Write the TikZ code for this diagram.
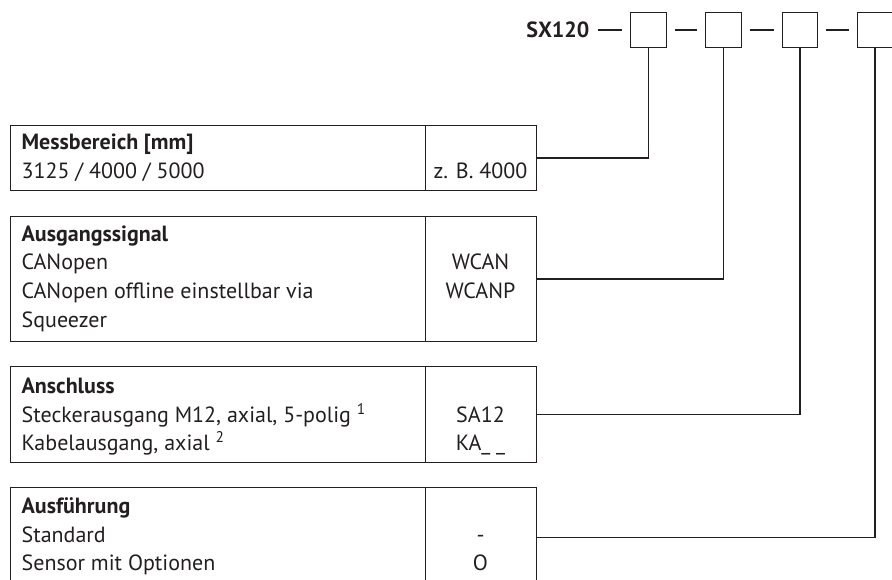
\documentclass[tikz,border=0pt]{standalone}
\usepackage{fontspec}
\setmainfont{PT Sans}
\definecolor{ink}{HTML}{231F20}

\begin{document}
\begin{tikzpicture}[x=1pt,y=-1pt,ink,line width=1.3pt,
	codebox/.style={draw,minimum size=35.5pt,inner sep=0pt},
	cell/.style={draw,anchor=north west,inner sep=0pt},
	joint/.style={shorten <=8pt,shorten >=8pt},
	txt/.style={anchor=base west,inner sep=0pt,font=\fontsize{22}{26}\selectfont},
	val/.style={anchor=base,inner sep=0pt,font=\fontsize{22}{26}\selectfont}]
				\useasboundingbox (0,0) rectangle (892,580);
				
				% order code
				\path (590,30) node[anchor=east,inner sep=0pt,font=\fontsize{22}{26}\selectfont\bfseries] (sx) {SX120};
				\path (648.5,30) node[codebox] (c1) {};
				\path (723.5,30) node[codebox] (c2) {};
				\path (800,30) node[codebox] (c3) {};
				\path (875,30) node[codebox] (c4) {};
				\draw[joint] (sx.east |- c1.west) -- (c1.west);
				\draw[joint] (c1.east) -- (c2.west);
				\draw[joint] (c2.east) -- (c3.west);
				\draw[joint] (c3.east) -- (c4.west);
				
				% table cells
				\path (10,125) node[cell,minimum width=415pt,minimum height=65pt] (k1) {};
				\path (425,125) node[cell,minimum width=111pt,minimum height=65pt] (v1) {};
				\path (10,216) node[cell,minimum width=415pt,minimum height=125pt] (k2) {};
				\path (425,216) node[cell,minimum width=111pt,minimum height=125pt] (v2) {};
				\path (10,366) node[cell,minimum width=415pt,minimum height=96pt] (k3) {};
				\path (425,366) node[cell,minimum width=111pt,minimum height=96pt] (v3) {};
				\path (10,487) node[cell,minimum width=415pt,minimum height=100pt] (k4) {};
				\path (425,487) node[cell,minimum width=111pt,minimum height=100pt] (v4) {};
				
				% connectors
				\draw (v1.east) -| (c1.south);
				\draw (v2.east) -| (c2.south);
				\draw (v3.east) -| (c3.south);
				\draw (v4.east) -| (c4.south);
				
				% texts
				\path (21,150) node[txt] (m0) {\textbf{Messbereich [mm]}};
				\path (21,179) node[txt] (m1) {3125 / 4000 / 5000};
				\path (480.5,179) node[val] (m2) {z. B. 4000};
				
				\path (21,242) node[txt] (a0) {\textbf{Ausgangssignal}};
				\path (21,270) node[txt] (a1) {CANopen};
				\path (21,298.5) node[txt] (a2) {CANopen offline einstellbar via};
				\path (21,327) node[txt] (a3) {Squeezer};
				\path (480.5,270) node[val] (a4) {WCAN};
				\path (480.5,298.5) node[val] (a5) {WCANP};
				
				\path (21,393) node[txt] (s0) {\textbf{Anschluss}};
				\path (21,422) node[txt] (s1) {Steckerausgang M12, axial, 5-polig \textsuperscript{1}};
				\path (21,450) node[txt] (s2) {Kabelausgang, axial \textsuperscript{2}};
				\path (480.5,422) node[val] (s3) {SA12};
				\path (480.5,450) node[val] (s4) {KA\_ \_};
				
				\path (21,513) node[txt] (f0) {\textbf{Ausführung}};
				\path (21,542) node[txt] (f1) {Standard};
				\path (21,570) node[txt] (f2) {Sensor mit Optionen};
				\path (480.5,542) node[val] (f3) {-};
				\path (480.5,570) node[val] (f4) {O};
\end{tikzpicture}
\end{document}
